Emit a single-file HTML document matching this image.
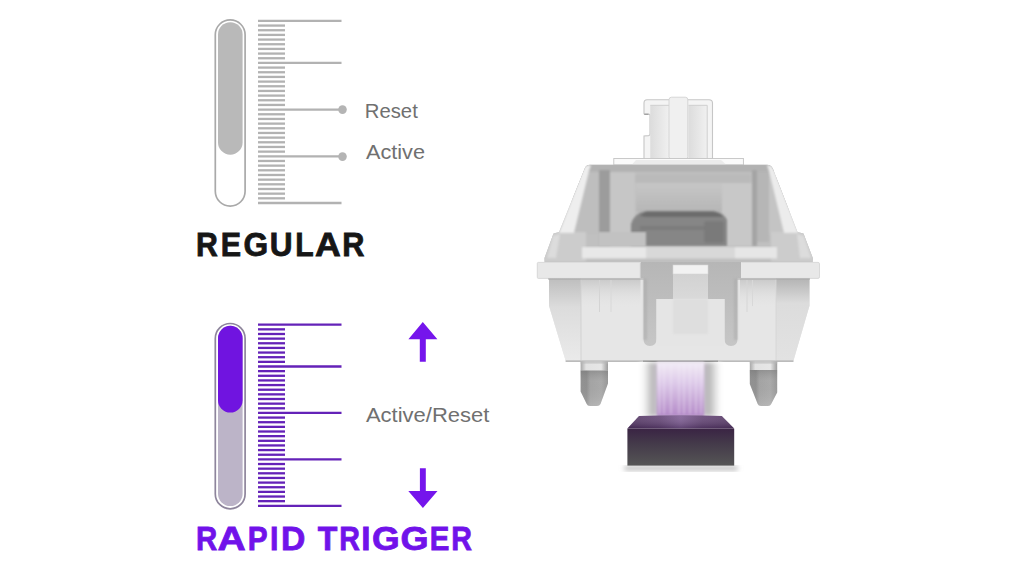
<!DOCTYPE html>
<html><head><meta charset="utf-8"><style>
html,body{margin:0;padding:0;background:#fff;width:1024px;height:576px;overflow:hidden}
svg{position:absolute;left:0;top:0;display:block}
text{font-family:"Liberation Sans",sans-serif}
</style></head><body>
<svg width="1024" height="576" viewBox="0 0 1024 576">

<!-- regular capsule -->
<rect x="215.3" y="19.9" width="29.8" height="186.2" rx="14.9" fill="#fff" stroke="#a9a9a9" stroke-width="1.7"/>
<rect x="218" y="22.2" width="24.6" height="132.5" rx="12.3" fill="#b9b9b9"/>
<g stroke="#b2b2b2" stroke-width="2.3"><line x1="258" y1="20.90" x2="341.5" y2="20.90"/><line x1="258" y1="25.57" x2="285" y2="25.57"/><line x1="258" y1="30.24" x2="285" y2="30.24"/><line x1="258" y1="34.91" x2="285" y2="34.91"/><line x1="258" y1="39.58" x2="285" y2="39.58"/><line x1="258" y1="44.24" x2="285" y2="44.24"/><line x1="258" y1="48.91" x2="285" y2="48.91"/><line x1="258" y1="53.58" x2="285" y2="53.58"/><line x1="258" y1="58.25" x2="285" y2="58.25"/><line x1="258" y1="62.92" x2="341.5" y2="62.92"/><line x1="258" y1="67.59" x2="285" y2="67.59"/><line x1="258" y1="72.26" x2="285" y2="72.26"/><line x1="258" y1="76.93" x2="285" y2="76.93"/><line x1="258" y1="81.60" x2="285" y2="81.60"/><line x1="258" y1="86.27" x2="285" y2="86.27"/><line x1="258" y1="90.94" x2="285" y2="90.94"/><line x1="258" y1="95.60" x2="285" y2="95.60"/><line x1="258" y1="100.27" x2="285" y2="100.27"/><line x1="258" y1="104.94" x2="285" y2="104.94"/><line x1="258" y1="109.61" x2="341.5" y2="109.61"/><line x1="258" y1="114.28" x2="285" y2="114.28"/><line x1="258" y1="118.95" x2="285" y2="118.95"/><line x1="258" y1="123.62" x2="285" y2="123.62"/><line x1="258" y1="128.29" x2="285" y2="128.29"/><line x1="258" y1="132.96" x2="285" y2="132.96"/><line x1="258" y1="137.62" x2="285" y2="137.62"/><line x1="258" y1="142.29" x2="285" y2="142.29"/><line x1="258" y1="146.96" x2="285" y2="146.96"/><line x1="258" y1="151.63" x2="285" y2="151.63"/><line x1="258" y1="156.30" x2="341.5" y2="156.30"/><line x1="258" y1="160.97" x2="285" y2="160.97"/><line x1="258" y1="165.64" x2="285" y2="165.64"/><line x1="258" y1="170.31" x2="285" y2="170.31"/><line x1="258" y1="174.98" x2="285" y2="174.98"/><line x1="258" y1="179.65" x2="285" y2="179.65"/><line x1="258" y1="184.31" x2="285" y2="184.31"/><line x1="258" y1="188.98" x2="285" y2="188.98"/><line x1="258" y1="193.65" x2="285" y2="193.65"/><line x1="258" y1="198.32" x2="285" y2="198.32"/><line x1="258" y1="202.99" x2="341.5" y2="202.99"/></g>
<circle cx="342.5" cy="109.6" r="4.3" fill="#b4b4b4"/>
<circle cx="342.5" cy="156.6" r="4.3" fill="#b4b4b4"/>
<!-- RT capsule -->
<rect x="215.3" y="323.5" width="29.8" height="185.3" rx="14.9" fill="#fff" stroke="#8e859c" stroke-width="1.7"/>
<rect x="218" y="325.8" width="24.6" height="180.3" rx="12.3" fill="#bcb4c8"/>
<rect x="218" y="325.8" width="24.6" height="86.8" rx="12.3" fill="#7014e0"/>
<g stroke="#6422b8" stroke-width="2.3"><line x1="258" y1="324.70" x2="341.5" y2="324.70"/><line x1="258" y1="329.34" x2="285" y2="329.34"/><line x1="258" y1="333.99" x2="285" y2="333.99"/><line x1="258" y1="338.63" x2="285" y2="338.63"/><line x1="258" y1="343.28" x2="285" y2="343.28"/><line x1="258" y1="347.92" x2="285" y2="347.92"/><line x1="258" y1="352.56" x2="285" y2="352.56"/><line x1="258" y1="357.21" x2="285" y2="357.21"/><line x1="258" y1="361.85" x2="285" y2="361.85"/><line x1="258" y1="366.50" x2="341.5" y2="366.50"/><line x1="258" y1="371.14" x2="285" y2="371.14"/><line x1="258" y1="375.78" x2="285" y2="375.78"/><line x1="258" y1="380.43" x2="285" y2="380.43"/><line x1="258" y1="385.07" x2="285" y2="385.07"/><line x1="258" y1="389.72" x2="285" y2="389.72"/><line x1="258" y1="394.36" x2="285" y2="394.36"/><line x1="258" y1="399.00" x2="285" y2="399.00"/><line x1="258" y1="403.65" x2="285" y2="403.65"/><line x1="258" y1="408.29" x2="285" y2="408.29"/><line x1="258" y1="412.94" x2="341.5" y2="412.94"/><line x1="258" y1="417.58" x2="285" y2="417.58"/><line x1="258" y1="422.22" x2="285" y2="422.22"/><line x1="258" y1="426.87" x2="285" y2="426.87"/><line x1="258" y1="431.51" x2="285" y2="431.51"/><line x1="258" y1="436.16" x2="285" y2="436.16"/><line x1="258" y1="440.80" x2="285" y2="440.80"/><line x1="258" y1="445.44" x2="285" y2="445.44"/><line x1="258" y1="450.09" x2="285" y2="450.09"/><line x1="258" y1="454.73" x2="285" y2="454.73"/><line x1="258" y1="459.38" x2="341.5" y2="459.38"/><line x1="258" y1="464.02" x2="285" y2="464.02"/><line x1="258" y1="468.66" x2="285" y2="468.66"/><line x1="258" y1="473.31" x2="285" y2="473.31"/><line x1="258" y1="477.95" x2="285" y2="477.95"/><line x1="258" y1="482.60" x2="285" y2="482.60"/><line x1="258" y1="487.24" x2="285" y2="487.24"/><line x1="258" y1="491.88" x2="285" y2="491.88"/><line x1="258" y1="496.53" x2="285" y2="496.53"/><line x1="258" y1="501.17" x2="285" y2="501.17"/><line x1="258" y1="505.82" x2="341.5" y2="505.82"/></g>
<!-- arrows -->
<path d="M422.8 322 L437.4 339.3 L425.8 339.3 L425.8 361.8 L419.8 361.8 L419.8 339.3 L408.4 339.3 Z" fill="#7515ec"/>
<path d="M422.9 508.1 L437.5 490.9 L425.8 490.9 L425.8 468.3 L419.9 468.3 L419.9 490.9 L408.3 490.9 Z" fill="#7515ec"/>


<text x="364.8" y="118.0" font-size="19.5" fill="#707070" textLength="53" lengthAdjust="spacingAndGlyphs">Reset</text>
<text x="366" y="158.6" font-size="19.5" fill="#707070" textLength="59" lengthAdjust="spacingAndGlyphs">Active</text>
<text x="365.9" y="422.1" font-size="19.5" fill="#707070" textLength="123.5" lengthAdjust="spacingAndGlyphs">Active/Reset</text>
<g font-size="32.6" font-weight="bold" fill="#161616" stroke="#161616" stroke-width="0.8"><text transform="translate(196.07 0) scale(0.9287 1)" x="0" y="255.9">R</text><text transform="translate(220.66 0) scale(0.9351 1)" x="0" y="255.9">E</text><text transform="translate(243.57 0) scale(0.9739 1)" x="0" y="255.9">G</text><text transform="translate(269.74 0) scale(0.9707 1)" x="0" y="255.9">U</text><text transform="translate(295.18 0) scale(0.9239 1)" x="0" y="255.9">L</text><text transform="translate(314.93 0) scale(1.0957 1)" x="0" y="255.9">A</text><text transform="translate(342.35 0) scale(0.9425 1)" x="0" y="255.9">R</text></g>
<g font-size="33" font-weight="bold" fill="#7112ea" stroke="#7112ea" stroke-width="0.8"><text transform="translate(196.04 0) scale(0.8909 1)" x="0" y="549.7">R</text><text transform="translate(217.50 0) scale(1.1828 1)" x="0" y="549.7">A</text><text transform="translate(247.82 0) scale(0.9026 1)" x="0" y="549.7">P</text><text transform="translate(270.09 0) scale(0.9217 1)" x="0" y="549.7">I</text><text transform="translate(281.01 0) scale(1.0212 1)" x="0" y="549.7">D</text><text transform="translate(317.74 0) scale(0.9707 1)" x="0" y="549.7">T</text><text transform="translate(339.18 0) scale(0.8682 1)" x="0" y="549.7">R</text><text transform="translate(361.33 0) scale(1.0087 1)" x="0" y="549.7">I</text><text transform="translate(371.89 0) scale(1.0766 1)" x="0" y="549.7">G</text><text transform="translate(400.48 0) scale(1.0936 1)" x="0" y="549.7">G</text><text transform="translate(429.64 0) scale(0.8923 1)" x="0" y="549.7">E</text><text transform="translate(451.28 0) scale(0.8682 1)" x="0" y="549.7">R</text></g>


<defs>
<linearGradient id="pinG" x1="0" x2="1" y1="0" y2="0"><stop offset="0" stop-color="#929292"/><stop offset="0.22" stop-color="#909090"/><stop offset="0.35" stop-color="#a4a4a4"/><stop offset="0.75" stop-color="#aaaaaa"/><stop offset="1" stop-color="#989898"/></linearGradient><linearGradient id="pinV" x1="0" x2="0" y1="0" y2="1"><stop offset="0" stop-color="#6a6a6a" stop-opacity="0.35"/><stop offset="0.3" stop-color="#808080" stop-opacity="0"/><stop offset="1" stop-color="#ffffff" stop-opacity="0.15"/></linearGradient>
<linearGradient id="collarG" x1="0" x2="1" y1="0" y2="0"><stop offset="0" stop-color="#a8a8a8"/><stop offset="0.2" stop-color="#e2e2e2"/><stop offset="0.75" stop-color="#e6e6e6"/><stop offset="1" stop-color="#9c9c9c"/></linearGradient>
<linearGradient id="beamG" x1="0" x2="0" y1="0" y2="1"><stop offset="0" stop-color="#f2ecf6"/><stop offset="0.4" stop-color="#dcc8e8"/><stop offset="1" stop-color="#b48ac8"/></linearGradient>
<linearGradient id="hazeG" x1="0" x2="1" y1="0" y2="0"><stop offset="0" stop-color="#ffffff"/><stop offset="0.06" stop-color="#f0f0f0"/><stop offset="0.15" stop-color="#bababa"/><stop offset="0.22" stop-color="#c8c0cc"/><stop offset="0.78" stop-color="#c8c0cc"/><stop offset="0.85" stop-color="#b6b6b6"/><stop offset="0.94" stop-color="#e6e6e6"/><stop offset="1" stop-color="#ffffff"/></linearGradient>
<linearGradient id="blockG" x1="0" x2="0" y1="0" y2="1"><stop offset="0" stop-color="#3a2444"/><stop offset="0.4" stop-color="#443a4a"/><stop offset="1" stop-color="#555555"/></linearGradient>
<linearGradient id="blockTopG" x1="0" x2="1" y1="0" y2="0"><stop offset="0" stop-color="#4c2e5c"/><stop offset="0.3" stop-color="#5e3e70"/><stop offset="0.5" stop-color="#7a5890"/><stop offset="0.7" stop-color="#5e3e70"/><stop offset="1" stop-color="#50325f"/></linearGradient><linearGradient id="blockTopV" x1="0" x2="0" y1="0" y2="1"><stop offset="0" stop-color="#ffffff" stop-opacity="0.12"/><stop offset="1" stop-color="#2a1838" stop-opacity="0.35"/></linearGradient>
<linearGradient id="bodyLG" x1="0" x2="0" y1="0" y2="1"><stop offset="0" stop-color="#bebebe"/><stop offset="0.35" stop-color="#dcdcdc"/><stop offset="1" stop-color="#eaeaea"/></linearGradient>
<linearGradient id="bodyRG" x1="0" x2="0" y1="0" y2="1"><stop offset="0" stop-color="#b4b4b4"/><stop offset="0.3" stop-color="#dcdcdc"/><stop offset="1" stop-color="#e2e2e2"/></linearGradient>
<linearGradient id="topShadeG" x1="0" x2="0" y1="0" y2="1"><stop offset="0" stop-color="#c8c8c8"/><stop offset="1" stop-color="#e6e6e6" stop-opacity="0"/></linearGradient>
<linearGradient id="slotG" x1="0" x2="0" y1="0" y2="1"><stop offset="0" stop-color="#b6b6b6"/><stop offset="1" stop-color="#c6c6c6"/></linearGradient>
<linearGradient id="tongueG" x1="0" x2="0" y1="0" y2="1"><stop offset="0" stop-color="#d2d2d2"/><stop offset="1" stop-color="#e2e2e2"/></linearGradient>
<linearGradient id="stemInL" x1="0" x2="1" y1="0" y2="0"><stop offset="0" stop-color="#dcdcdc"/><stop offset="1" stop-color="#f0f0f0"/></linearGradient>
<linearGradient id="innerG" x1="0" x2="0" y1="0" y2="1"><stop offset="0" stop-color="#c6c6c6"/><stop offset="1" stop-color="#b6b6b6"/></linearGradient>
<linearGradient id="edgeG" x1="0" x2="1" y1="0" y2="0"><stop offset="0" stop-color="#3c2448"/><stop offset="0.5" stop-color="#9a78b0"/><stop offset="1" stop-color="#3c2448"/></linearGradient>
<radialGradient id="shadowG" cx="0.5" cy="0.5" r="0.5"><stop offset="0" stop-color="#a0a0a0"/><stop offset="0.7" stop-color="#d8d8d8"/><stop offset="1" stop-color="#fff" stop-opacity="0"/></radialGradient>
<filter id="soft" x="-5%" y="-5%" width="110%" height="110%"><feGaussianBlur stdDeviation="1.2"/></filter>
<filter id="softB" x="-10%" y="-5%" width="120%" height="110%"><feGaussianBlur stdDeviation="1.1"/></filter><filter id="softH" x="-10%" y="-2%" width="120%" height="104%"><feGaussianBlur stdDeviation="2" /></filter>
<filter id="soft2" x="-20%" y="-20%" width="140%" height="140%"><feGaussianBlur stdDeviation="2.5"/></filter>
<clipPath id="housingClip"><path d="M590 164.8 L767 164.8 Q771 164.8 773 169 L797.5 232 L803.5 233.5 L812.8 258 L812.8 262 L544.5 262 L544.5 258 L553.5 233.5 L559 232 L584.5 169 Q586 164.8 590 164.8 Z"/></clipPath>
</defs>
<!-- stem -->
<path d="M647 99.7 L709 99.7 Q712.5 99.7 712.5 103 L712.5 160 L644 160 L644 136 L648.5 135.6 Q650 135.4 650 134 L650 115.5 Q650 114 648.5 114 L644 113.8 L644 103 Q644 99.7 647 99.7 Z" fill="#f4f4f4" stroke="#c6c6c6" stroke-width="1.1"/>
<rect x="650.3" y="105.3" width="18.7" height="54" fill="url(#stemInL)"/>
<rect x="688.5" y="105.3" width="18.7" height="54" fill="url(#stemInL)"/>
<path d="M648.6 114.3 L644.2 114.3" stroke="#9a9a9a" stroke-width="1.2"/>
<path d="M650.3 105.3 L669 105.3 M688.5 105.3 L707.2 105.3 L707.2 159" fill="none" stroke="#cfcfcf" stroke-width="1"/>
<rect x="669" y="97.2" width="18.8" height="62" rx="2.5" fill="#f0f0f0" stroke="#d2d2d2" stroke-width="0.9"/>
<!-- plate -->
<rect x="613.8" y="158.5" width="129.6" height="6.5" fill="#fafafa" stroke="#c4c4c4" stroke-width="0.9"/>
<path d="M636 160 L721 160 L726 164.5 L632 164.5 Z" fill="#ebebeb"/>
<!-- top housing -->
<g clip-path="url(#housingClip)">
<rect x="540" y="160" width="280" height="105" fill="#c0c0c0"/>
<g filter="url(#soft)">
<rect x="540" y="164" width="280" height="8" fill="#b2b2b2"/>
<rect x="572" y="172" width="27" height="62" fill="#bebebe"/>
<rect x="599" y="170" width="11" height="76" fill="#9c9c9c"/>
<rect x="610" y="172" width="25" height="62" fill="#c6c6c6"/>
<rect x="635" y="174.5" width="116" height="8.5" fill="#bababa"/>
<rect x="636" y="183" width="86" height="29" fill="url(#innerG)"/>
<rect x="722" y="183" width="30" height="63" fill="#c8c8c8"/>
<rect x="752" y="170" width="5" height="76" fill="#a4a4a4"/>
<rect x="757" y="172" width="12" height="70" fill="#b6b6b6"/>
<rect x="769" y="176" width="20" height="58" fill="#c4c4c4"/>
<rect x="540" y="232" width="46" height="30" fill="#cccccc"/>
<rect x="771" y="232" width="46" height="30" fill="#cccccc"/>
</g>
<g filter="url(#soft)">
<path d="M631 224 Q634 213 646 211 L714 211 Q724 213 727 220 L727 246 L631 246 Z" fill="#868686"/>
<path d="M640 216 Q644 211.5 648 211.5 L712 211.5 Q720 212 723 217 L718 217 L646 217 Z" fill="#6c6c6c"/>
<rect x="640" y="226" width="80" height="4" fill="#7c7c7c"/>
<rect x="704" y="221" width="20" height="22" rx="3" fill="#7a7a7a"/>
</g>
<rect x="598" y="232" width="48" height="15" fill="#c2c2c2" filter="url(#soft)"/>
<g filter="url(#soft)">
<rect x="582" y="247" width="64" height="11.5" fill="#e8e8e8"/>
<rect x="646" y="247" width="89" height="11.5" fill="#d8d8d8"/>
<rect x="735" y="247" width="42" height="11.5" fill="#e6e6e6"/>
</g>
<!-- slanted bright edges -->
<path d="M583.7 168.2 Q585.5 165 589 165 L591 165 L589 171 L574 233 L558.8 233 Z" fill="#eeeeee" filter="url(#soft)"/>
<path d="M774.6 171 Q772.5 165 768 165 L767 165 L769.5 173 L784 233 L798.5 233 Z" fill="#ececec" filter="url(#soft)"/>
<!-- shoulder highlights -->
<path d="M547 258 L553 236 L560 234 L556 258 Z" fill="#dcdcdc" filter="url(#soft)"/>
<path d="M811 258 L804 236 L797 234 L800 258 Z" fill="#dcdcdc" filter="url(#soft)"/>
</g>
<!-- bottom housing flanges -->
<rect x="537.3" y="262.4" width="103" height="16" rx="1" fill="#e8e8e8" stroke="#d2d2d2" stroke-width="0.8"/>
<rect x="740" y="262.4" width="79.5" height="16" rx="1.5" fill="#e8e8e8" stroke="#d2d2d2" stroke-width="0.8"/>
<!-- body -->
<path d="M549 278.5 L809.5 278.5 L809.5 305.8 L793.5 360.6 L565.6 360.6 L549 305.8 Z" fill="#e6e6e6"/>
<path d="M549 278.5 L581 278.5 L581 360.6 L565.6 360.6 L549 305.8 Z" fill="url(#bodyLG)"/>
<path d="M776 278.5 L809.5 278.5 L809.5 305.8 L793.5 360.6 L776 360.6 Z" fill="url(#bodyRG)"/>
<rect x="581" y="278.5" width="59.5" height="30" fill="url(#topShadeG)"/>
<rect x="740" y="278.5" width="36" height="30" fill="url(#topShadeG)"/>
<line x1="581" y1="279" x2="581" y2="360" stroke="#d0d0d0" stroke-width="0.9"/>
<line x1="776" y1="279" x2="776" y2="360" stroke="#d6d6d6" stroke-width="0.9"/>
<line x1="599.5" y1="280" x2="599.5" y2="312" stroke="#d4d4d4" stroke-width="1"/>
<line x1="611" y1="280" x2="611" y2="312" stroke="#d8d8d8" stroke-width="1"/>
<line x1="747" y1="280" x2="747" y2="312" stroke="#d6d6d6" stroke-width="1"/>
<line x1="752.5" y1="280" x2="752.5" y2="306" stroke="#d8d8d8" stroke-width="1"/>
<line x1="548" y1="279" x2="810" y2="279" stroke="#a8a8a8" stroke-width="1.2"/>
<!-- middle slot region -->
<path d="M640.5 262 L741 262 L741 278.5 L737.5 278.5 L737.5 339 Q737.5 346 731 346 Q724.5 346 724.5 339 L724.5 299 L708 299 L708 274 L673 274 L673 299 L656.5 299 L656.5 339 Q656.5 346 650 346 Q643.5 346 643.5 339 L643.5 278.5 L640.5 278.5 Z" fill="url(#slotG)"/>
<path d="M643.5 278.5 L647 278.5 L647 340 L643.5 340 Z M734 278.5 L737.5 278.5 L737.5 340 L734 340 Z" fill="#a9a9a9" opacity="0.5" filter="url(#soft)"/>
<rect x="673" y="265" width="35" height="9" fill="#f2f2f2" stroke="#d6d6d6" stroke-width="0.6"/>
<rect x="673" y="274" width="35" height="56" fill="url(#tongueG)"/>
<rect x="656.5" y="299" width="68" height="47" fill="#e5e5e5"/>
<rect x="673" y="299" width="35" height="35" fill="#dedede" filter="url(#soft)"/>
<!-- body bottom dark edge -->
<line x1="565.6" y1="361.1" x2="793.5" y2="361.1" stroke="#a4a4a4" stroke-width="1.1"/>
<line x1="643" y1="361.4" x2="718" y2="361.4" stroke="#7a7a7a" stroke-width="1.3"/>
<!-- pins -->
<rect x="580.6" y="361.6" width="27.4" height="9" fill="url(#collarG)"/>
<rect x="580.6" y="361.6" width="27.4" height="2" fill="#b8b8b8" opacity="0.6"/>
<path d="M580.6 370.6 L608 370.6 L608 383.5 L600.5 404 Q599.5 406 597 406 L590 406 Q587.5 406 586.7 404 L580.6 391.5 Z" fill="url(#pinG)"/>
<path d="M580.6 370.6 L608 370.6 L608 383.5 L600.5 404 Q599.5 406 597 406 L590 406 Q587.5 406 586.7 404 L580.6 391.5 Z" fill="url(#pinV)"/>
<rect x="749.8" y="361.6" width="27.4" height="8.4" fill="url(#collarG)"/>
<rect x="749.8" y="361.6" width="27.4" height="2" fill="#b8b8b8" opacity="0.6"/>
<path d="M749.8 370 L777.2 370 L777.2 392.5 L771.2 404 Q770.4 406 768 406 L761 406 Q758.5 406 757.7 404 L749.8 384 Z" fill="url(#pinG)"/>
<path d="M749.8 370 L777.2 370 L777.2 392.5 L771.2 404 Q770.4 406 768 406 L761 406 Q758.5 406 757.7 404 L749.8 384 Z" fill="url(#pinV)"/>
<!-- beam -->
<rect x="640" y="362.4" width="81" height="54" fill="url(#hazeG)" filter="url(#softH)"/>
<g filter="url(#softB)">
<rect x="657" y="362.2" width="47" height="54" fill="url(#beamG)"/>
<g stroke="#f6f0fa" stroke-width="1" opacity="0.55">
<line x1="659.5" y1="364" x2="659.5" y2="414"/><line x1="664" y1="364" x2="664" y2="414"/><line x1="671" y1="364" x2="671" y2="414"/><line x1="679" y1="364" x2="679" y2="414"/><line x1="684" y1="364" x2="684" y2="414"/><line x1="690" y1="364" x2="690" y2="414"/><line x1="696" y1="364" x2="696" y2="414"/><line x1="701" y1="364" x2="701" y2="414"/>
</g>
</g>
<!-- shadow -->
<rect x="624" y="466" width="114" height="4.5" rx="2" fill="#bcbcbc" filter="url(#soft2)"/>
<!-- sensor block -->
<path d="M639 416 Q681 414.5 721.8 416 L734.2 428.4 L627.4 428.4 Z" fill="url(#blockTopG)"/>
<path d="M639 416 Q681 414.5 721.8 416 L734.2 428.4 L627.4 428.4 Z" fill="url(#blockTopV)"/>
<line x1="627.4" y1="428.4" x2="734.2" y2="428.4" stroke="url(#edgeG)" stroke-width="1"/>
<rect x="627.4" y="428.6" width="106.8" height="37" fill="url(#blockG)"/>

</svg>
</body></html>
